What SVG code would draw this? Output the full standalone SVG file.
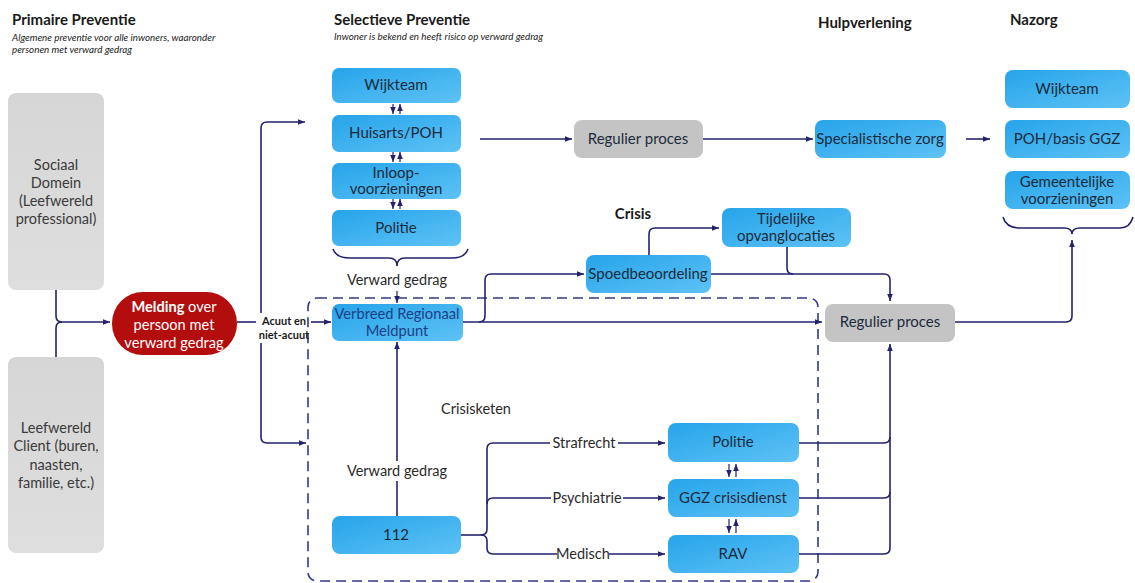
<svg xmlns="http://www.w3.org/2000/svg" width="1135" height="583" viewBox="0 0 1135 583">
<defs>
<linearGradient id="blue" x1="0" y1="0" x2="1" y2="1">
<stop offset="0" stop-color="#26a4ea"/>
<stop offset="1" stop-color="#5ec2f5"/>
</linearGradient>
<linearGradient id="greyL" x1="0" y1="0" x2="0" y2="1">
<stop offset="0" stop-color="#d6d6d6"/>
<stop offset="1" stop-color="#dedede"/>
</linearGradient>
<marker id="ah" viewBox="0 0 10 10" refX="10" refY="5" markerWidth="7" markerHeight="7" markerUnits="userSpaceOnUse" orient="auto">
<path d="M0,1 L10,5 L0,9 Z" fill="#23236e"/>
</marker>
<style>
.b{fill:url(#blue);}
.g{fill:#c4c4c4;}
.gl{fill:url(#greyL);}
.t{font-family:Lato,"Liberation Sans",sans-serif;font-size:15px;fill:#1c2b3c;text-anchor:middle;}
.tw{font-family:Lato,"Liberation Sans",sans-serif;font-size:14.6px;fill:#ffffff;text-anchor:middle;}
.tg{font-family:Lato,"Liberation Sans",sans-serif;font-size:14.5px;fill:#3a3a3a;text-anchor:middle;}
.tv{font-family:Lato,"Liberation Sans",sans-serif;font-size:14.7px;fill:#1e3f86;text-anchor:middle;}
.h{font-family:Lato,"Liberation Sans",sans-serif;font-size:15px;font-weight:bold;fill:#1a1a1a;}
.sub{font-family:Lato,"Liberation Sans",sans-serif;font-size:9.8px;font-style:italic;fill:#222;}
.lab{font-family:Lato,"Liberation Sans",sans-serif;font-size:14.5px;fill:#2a2a2a;text-anchor:middle;}
.sm{font-family:Lato,"Liberation Sans",sans-serif;font-size:11px;font-weight:bold;fill:#1a1a1a;text-anchor:middle;}
.c{fill:none;stroke:#23236e;stroke-width:1.6;}
.ca{fill:none;stroke:#23236e;stroke-width:1.6;marker-end:url(#ah);}
.cs{fill:none;stroke:#23236e;stroke-width:1.2;marker-end:url(#ah);}
.dash{fill:none;stroke:#2f3a80;stroke-width:1.6;stroke-dasharray:10 6;}
</style>
</defs>
<rect width="1135" height="583" fill="#ffffff"/>

<!-- headers -->
<text class="h" x="12" y="25">Primaire Preventie</text>
<text class="sub" x="12" y="41">Algemene preventie voor alle inwoners, waaronder</text>
<text class="sub" x="12" y="53">personen met verward gedrag</text>
<text class="h" x="334" y="25">Selectieve Preventie</text>
<text class="sub" x="334" y="40">Inwoner is bekend en heeft risico op verward gedrag</text>
<text class="h" x="818" y="28">Hulpverlening</text>
<text class="h" x="1010" y="25">Nazorg</text>
<text class="h" x="633" y="219" text-anchor="middle">Crisis</text>
<text class="lab" x="476" y="414">Crisisketen</text>

<!-- dashed crisis box -->
<rect class="dash" x="308" y="298" width="510" height="283" rx="9"/>

<!-- connectors -->
<g id="connectors">
<path class="c" d="M56,290 V316 Q56,322 62,322"/>
<path class="ca" d="M56,357 V328 Q56,322 62,322 H110"/>
<path class="c" d="M237,322 H256"/>
<path class="ca" d="M311,322 H331"/>
<path class="ca" d="M261,313 V128 Q261,122 267,122 H305"/>
<path class="ca" d="M261,343 V437 Q261,443 267,443 H306"/>

<path class="cs" d="M393,104 V114"/>
<path class="cs" d="M400,114 V104"/>
<path class="cs" d="M393,152 V162"/>
<path class="cs" d="M400,162 V152"/>
<path class="cs" d="M393,199 V209"/>
<path class="cs" d="M400,209 V199"/>

<path class="c" d="M333,249 Q336,258 350,258 H389 Q397,258 397,266 Q397,258 405,258 H452 Q465,258 468,249"/>
<path class="cs" d="M397,291 V303"/>

<path class="ca" d="M480,139 H572"/>
<path class="ca" d="M703,139 H813"/>
<path class="ca" d="M966,139 H990"/>

<path class="ca" d="M463,322 H822"/>
<path class="ca" d="M479,322 Q485,322 485,316 V280 Q485,274 491,274 H584"/>
<path class="ca" d="M649,255 V234 Q649,228 655,228 H719"/>
<path class="ca" d="M711,274 H884 Q890,274 890,280 V301"/>
<path class="c" d="M787,247 V268 Q787,274 793,274"/>
<path class="ca" d="M955,322 H1066 Q1072,322 1072,316 V240"/>
<path class="c" d="M1003,217 Q1006,228 1020,228 H1064 Q1072,228 1072,234 Q1072,228 1080,228 H1120 Q1130,228 1133,217"/>

<path class="ca" d="M397,516 V342"/>
<path class="c" d="M461,535 H481"/>
<path class="ca" d="M481,535 Q487,535 487,529 V449 Q487,443 493,443 H665"/>
<path class="ca" d="M481,535 Q487,535 487,541 V548 Q487,554 493,554 H665"/>
<path class="ca" d="M487,504 Q487,498 493,498 H665"/>

<path class="cs" d="M729,464 V477"/>
<path class="cs" d="M736,477 V464"/>
<path class="cs" d="M729,519 V533"/>
<path class="cs" d="M736,533 V519"/>

<path class="ca" d="M799,554 H884 Q890,554 890,548 V344"/>
<path class="c" d="M799,443 H884 Q890,443 890,437"/>
<path class="c" d="M799,498 H884 Q890,498 890,492"/>
</g>

<!-- connector labels -->
<g id="labels">
<text class="sm" x="284" y="325">Acuut en</text>
<text class="sm" x="284" y="339">niet-acuut</text>
<text class="lab" x="397" y="285">Verward gedrag</text>
<rect x="344" y="461" width="106" height="20" fill="#ffffff"/>
<text class="lab" x="397" y="476">Verward gedrag</text>
<rect x="550" y="434" width="68" height="18" fill="#ffffff"/>
<text class="lab" x="584" y="448">Strafrecht</text>
<rect x="551" y="489" width="72" height="18" fill="#ffffff"/>
<text class="lab" x="587" y="503">Psychiatrie</text>
<rect x="557" y="545" width="52" height="18" fill="#ffffff"/>
<text class="lab" x="583" y="559">Medisch</text>
</g>

<!-- nodes -->
<g id="sociaal-domein">
<rect class="gl" x="8" y="93" width="96" height="197" rx="8"/>
<text class="tg" x="56" y="170">Sociaal</text>
<text class="tg" x="56" y="188">Domein</text>
<text class="tg" x="56" y="206">(Leefwereld</text>
<text class="tg" x="56" y="224">professional)</text>
</g>
<g id="leefwereld-client">
<rect class="gl" x="8" y="357" width="96" height="196" rx="8"/>
<text class="tg" x="56" y="433">Leefwereld</text>
<text class="tg" x="56" y="451">Client (buren,</text>
<text class="tg" x="56" y="470">naasten,</text>
<text class="tg" x="56" y="488">familie, etc.)</text>
</g>
<g id="melding">
<rect x="112" y="292" width="125" height="63" rx="31" fill="#b40d0d"/>
<text class="tw" x="174" y="312"><tspan font-weight="bold">Melding</tspan> over</text>
<text class="tw" x="174" y="330">persoon met</text>
<text class="tw" x="174" y="348">verward gedrag</text>
</g>
<g id="wijkteam-sp">
<rect class="b" x="332" y="68" width="129" height="35" rx="7"/>
<text class="t" x="396" y="90">Wijkteam</text>
</g>
<g id="huisarts">
<rect class="b" x="332" y="115" width="129" height="37" rx="7"/>
<text class="t" x="396" y="138">Huisarts/POH</text>
</g>
<g id="inloop">
<rect class="b" x="332" y="163" width="129" height="36" rx="7"/>
<text class="t" x="396" y="178">Inloop-</text>
<text class="t" x="396" y="194">voorzieningen</text>
</g>
<g id="politie-sp">
<rect class="b" x="332" y="210" width="129" height="36" rx="7"/>
<text class="t" x="396" y="233">Politie</text>
</g>
<g id="regulier-top">
<rect class="g" x="574" y="120" width="129" height="38" rx="8"/>
<text class="t" x="638" y="144">Regulier proces</text>
</g>
<g id="specialistische-zorg">
<rect class="b" x="815" y="120" width="131" height="38" rx="8"/>
<text class="t" x="880" y="144">Specialistische zorg</text>
</g>
<g id="wijkteam-nz">
<rect class="b" x="1005" y="70" width="125" height="38" rx="8"/>
<text class="t" x="1067" y="94">Wijkteam</text>
</g>
<g id="poh-ggz">
<rect class="b" x="1005" y="120" width="125" height="38" rx="8"/>
<text class="t" x="1067" y="144">POH/basis GGZ</text>
</g>
<g id="gemeentelijk">
<rect class="b" x="1005" y="171" width="125" height="38" rx="8"/>
<text class="t" x="1067" y="187">Gemeentelijke</text>
<text class="t" x="1067" y="204">voorzieningen</text>
</g>
<g id="tijdelijke">
<rect class="b" x="722" y="208" width="129" height="39" rx="8"/>
<text class="t" x="786" y="224">Tijdelijke</text>
<text class="t" x="786" y="241">opvanglocaties</text>
</g>
<g id="spoedbeoordeling">
<rect class="b" x="586" y="255" width="125" height="38" rx="8"/>
<text class="t" x="648" y="279">Spoedbeoordeling</text>
</g>
<g id="verbreed">
<rect class="b" x="332" y="304" width="131" height="37" rx="7"/>
<text class="tv" x="397" y="319">Verbreed Regionaal</text>
<text class="tv" x="397" y="336">Meldpunt</text>
</g>
<g id="regulier-low">
<rect class="g" x="825" y="304" width="130" height="38" rx="8"/>
<text class="t" x="890" y="327">Regulier proces</text>
</g>
<g id="n112">
<rect class="b" x="332" y="516" width="129" height="38" rx="8"/>
<text class="t" x="396" y="540">112</text>
</g>
<g id="politie-cr">
<rect class="b" x="668" y="423" width="131" height="39" rx="8"/>
<text class="t" x="733" y="447">Politie</text>
</g>
<g id="ggz">
<rect class="b" x="668" y="479" width="131" height="38" rx="8"/>
<text class="t" x="733" y="503">GGZ crisisdienst</text>
</g>
<g id="rav">
<rect class="b" x="668" y="535" width="131" height="38" rx="8"/>
<text class="t" x="733" y="559">RAV</text>
</g>
</svg>
